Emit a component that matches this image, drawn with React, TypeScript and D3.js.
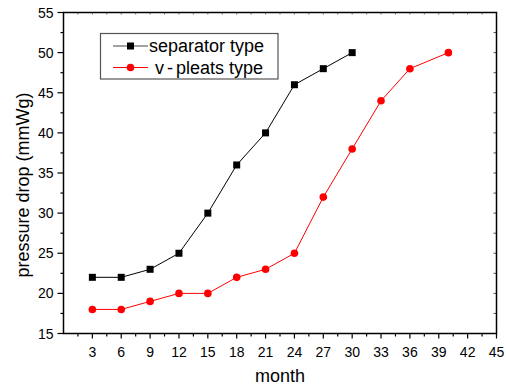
import React, { useEffect, useRef } from "react";
import * as d3 from "d3";

const months = [3, 6, 9, 12, 15, 18, 21, 24, 27, 30, 33, 36, 40];
const separatorValues = [22, 22, 23, 25, 30, 36, 40, 46, 48, 50];
const pleatsValues = [18, 18, 19, 20, 20, 22, 23, 25, 32, 38, 44, 48, 50];
const xTicks = [3, 6, 9, 12, 15, 18, 21, 24, 27, 30, 33, 36, 39, 42, 45];
const yTicks = [15, 20, 25, 30, 35, 40, 45, 50, 55];
const seriesNames = ["separator type", "v-pleats type"];

export default function App() {
  const chartRef = useRef<SVGSVGElement>(null);

  useEffect(() => {
    document.body.style.margin = "0";
    if (!chartRef.current) return;
    const svg = d3.select(chartRef.current);
    svg.selectAll("*").remove();

    const width = 506;
    const height = 385;
    const margin = { top: 12.5, right: 9.5, bottom: 51.5, left: 63.5 };

    const x = d3
      .scaleLinear()
      .domain([0, 45])
      .range([margin.left, width - margin.right]);
    const y = d3
      .scaleLinear()
      .domain([15, 55])
      .range([height - margin.bottom, margin.top]);

    const font = "Arial, 'Liberation Sans', sans-serif";

    // minor ticks
    const xMinor = d3.range(1.5, 45, 3);
    const yMinor = d3.range(17.5, 55, 5);

    const g = svg.append("g");

    // bottom axis
    g.selectAll("line.xmaj")
      .data(xTicks)
      .join("line")
      .attr("x1", (d) => x(d))
      .attr("x2", (d) => x(d))
      .attr("y1", y(15))
      .attr("y2", y(15) + 5)
      .attr("stroke", "#000")
      .attr("stroke-width", 1.2);
    g.selectAll("line.xmin")
      .data(xMinor)
      .join("line")
      .attr("x1", (d) => x(d))
      .attr("x2", (d) => x(d))
      .attr("y1", y(15))
      .attr("y2", y(15) + 3)
      .attr("stroke", "#000")
      .attr("stroke-width", 1.2);
    g.selectAll("text.xlab")
      .data(xTicks)
      .join("text")
      .attr("x", (d) => x(d))
      .attr("y", y(15) + 23)
      .attr("text-anchor", "middle")
      .attr("font-family", font)
      .attr("font-size", 14)
      .attr("fill", "#000")
      .text((d) => d);

    // left axis
    g.selectAll("line.ymaj")
      .data(yTicks)
      .join("line")
      .attr("x1", x(0) - 6)
      .attr("x2", x(0))
      .attr("y1", (d) => y(d))
      .attr("y2", (d) => y(d))
      .attr("stroke", "#000")
      .attr("stroke-width", 1.2);
    g.selectAll("line.ymin")
      .data(yMinor)
      .join("line")
      .attr("x1", x(0) - 3)
      .attr("x2", x(0))
      .attr("y1", (d) => y(d))
      .attr("y2", (d) => y(d))
      .attr("stroke", "#000")
      .attr("stroke-width", 1.2);
    g.selectAll("text.ylab")
      .data(yTicks)
      .join("text")
      .attr("x", x(0) - 10)
      .attr("y", (d) => y(d) + 5)
      .attr("text-anchor", "end")
      .attr("font-family", font)
      .attr("font-size", 14)
      .attr("fill", "#000")
      .text((d) => d);

    // top and right mirrored ticks (inward)
    g.selectAll("line.top")
      .data(d3.range(1.5, 45, 1.5))
      .join("line")
      .attr("x1", (d) => x(d))
      .attr("x2", (d) => x(d))
      .attr("y1", y(55))
      .attr("y2", y(55) + 2)
      .attr("stroke", "#777")
      .attr("stroke-width", 1);
    g.selectAll("line.right")
      .data(d3.range(17.5, 55, 2.5))
      .join("line")
      .attr("x1", x(45) - 3)
      .attr("x2", x(45))
      .attr("y1", (d) => y(d))
      .attr("y2", (d) => y(d))
      .attr("stroke", "#555")
      .attr("stroke-width", 1);

    // frame
    g.append("rect")
      .attr("x", x(0))
      .attr("y", y(55))
      .attr("width", x(45) - x(0))
      .attr("height", y(15) - y(55))
      .attr("fill", "none")
      .attr("stroke", "#000")
      .attr("stroke-width", 1.5);

    // axis titles
    g.append("text")
      .attr("x", (x(0) + x(45)) / 2)
      .attr("y", 382)
      .attr("text-anchor", "middle")
      .attr("font-family", font)
      .attr("font-size", 18)
      .text("month");
    g.append("text")
      .attr("transform", `translate(29, ${(y(15) + y(55)) / 2 + 12}) rotate(-90)`)
      .attr("text-anchor", "middle")
      .attr("font-family", font)
      .attr("font-size", 18)
      .text("pressure drop (mmWg)");

    const line = d3
      .line<[number, number]>()
      .x((d) => x(d[0]))
      .y((d) => y(d[1]));

    const sepData: [number, number][] = separatorValues.map((v, i) => [months[i], v]);
    const pleatData: [number, number][] = pleatsValues.map((v, i) => [months[i], v]);

    g.append("path")
      .attr("d", line(sepData))
      .attr("fill", "none")
      .attr("stroke", "#000")
      .attr("stroke-width", 1);
    g.selectAll("rect.sep")
      .data(sepData)
      .join("rect")
      .attr("x", (d) => x(d[0]) - 3.5)
      .attr("y", (d) => y(d[1]) - 3.5)
      .attr("width", 7)
      .attr("height", 7)
      .attr("fill", "#000");

    g.append("path")
      .attr("d", line(pleatData))
      .attr("fill", "none")
      .attr("stroke", "#ff0000")
      .attr("stroke-width", 1);
    g.selectAll("circle.pl")
      .data(pleatData)
      .join("circle")
      .attr("cx", (d) => x(d[0]))
      .attr("cy", (d) => y(d[1]))
      .attr("r", 3.8)
      .attr("fill", "#ff0000");

    // legend
    const legend = g.append("g");
    legend
      .append("rect")
      .attr("x", 100.5)
      .attr("y", 33.5)
      .attr("width", 177.5)
      .attr("height", 45.5)
      .attr("fill", "#fff")
      .attr("stroke", "#555")
      .attr("stroke-width", 1.2);
    const rows = [
      { y: 46, color: "#000", stroke: "#444" },
      { y: 67.5, color: "#ff0000", stroke: "#ff0000" },
    ];
    rows.forEach((r, i) => {
      legend
        .append("line")
        .attr("x1", 113)
        .attr("x2", 148)
        .attr("y1", r.y)
        .attr("y2", r.y)
        .attr("stroke", r.stroke)
        .attr("stroke-width", 1);
      if (i === 0) {
        legend
          .append("rect")
          .attr("x", 127)
          .attr("y", r.y - 3.5)
          .attr("width", 7)
          .attr("height", 7)
          .attr("fill", r.color);
      } else {
        legend
          .append("circle")
          .attr("cx", 130.5)
          .attr("cy", r.y)
          .attr("r", 3.8)
          .attr("fill", r.color);
      }
      const t = legend
        .append("text")
        .attr("x", i === 0 ? 149 : 155)
        .attr("y", r.y + 6)
        .attr("font-family", font)
        .attr("font-size", 18)
        .attr("fill", "#000");
      if (i === 0) {
        t.text(seriesNames[0]);
      } else {
        const parts = seriesNames[1].split("-");
        t.append("tspan").text(parts[0]);
        t.append("tspan").attr("dx", 3).text("-");
        t.append("tspan").attr("dx", 3).text(parts[1]);
      }
    });
  }, []);

  return (
    <div>
      <svg
        ref={chartRef}
        width={506}
        height={385}
        style={{ display: "block", background: "#fff" }}
      />
    </div>
  );
}
